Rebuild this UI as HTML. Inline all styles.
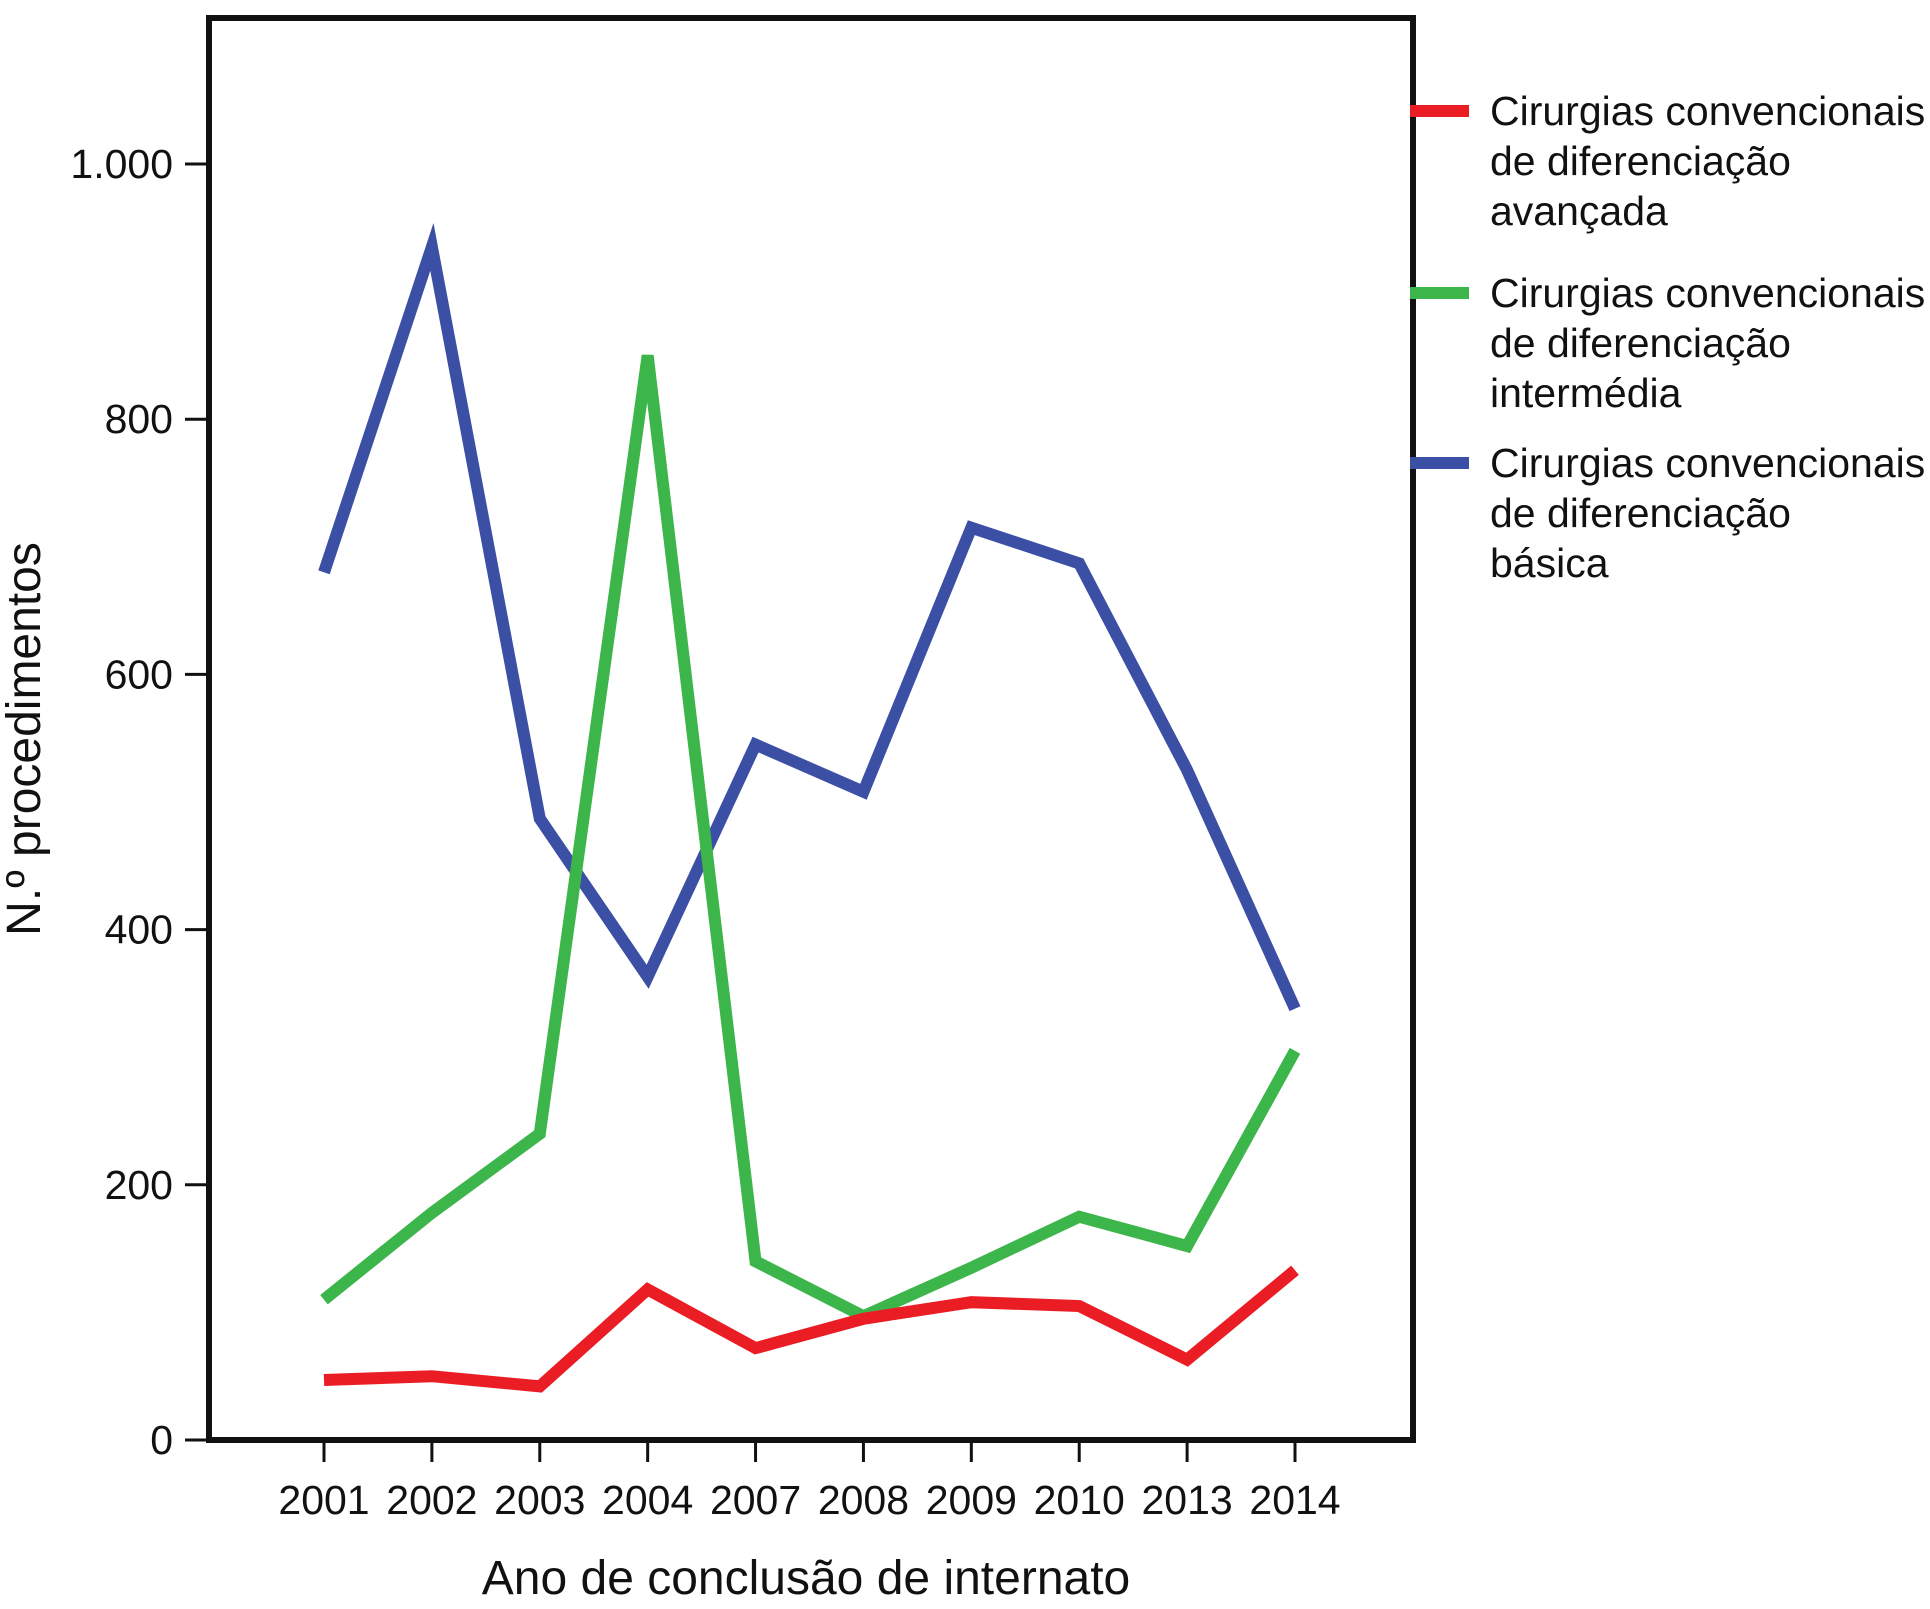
<!DOCTYPE html>
<html><head><meta charset="utf-8"><style>
body{margin:0;background:#fff;}
svg text{font-family:"Liberation Sans",sans-serif;fill:#111;}
</style></head><body>
<svg id="chart" width="1930" height="1604">
<rect x="209" y="18" width="1204" height="1422" fill="none" stroke="#111" stroke-width="6"/>
<g id="yticks"></g>
<g id="xticks"></g>
<g id="series"></g>
<text x="40" y="739" font-size="48" text-anchor="middle" transform="rotate(-90 40 739)">N.º procedimentos</text>
<text x="806" y="1594" font-size="48" text-anchor="middle">Ano de conclusão de internato</text>
<g id="legend"></g>
</svg>
<script>
const categories=["2001","2002","2003","2004","2007","2008","2009","2010","2013","2014"];
const basica=[680,935,487,363,545,508,715,687,525,338];
const intermedia=[110,178,240,850,140,97,135,175,152,305];
const avancada=[47,50,42,118,72,95,108,105,63,133];
const yTicks=[0,200,400,600,800,1000];
const yTickLabels=["0","200","400","600","800","1.000"];
const legendLabels=[["Cirurgias convencionais","de diferenciação","avançada"],["Cirurgias convencionais","de diferenciação","intermédia"],["Cirurgias convencionais","de diferenciação","básica"]];
const NS="http://www.w3.org/2000/svg";
function y(v){return 1440-v*(1440-164)/1000;}
function x(i){return 324+i*(1295-324)/9;}
const yg=document.getElementById('yticks');
yTicks.forEach((t,i)=>{
 const l=document.createElementNS(NS,'line');
 l.setAttribute('x1',185);l.setAttribute('x2',209);l.setAttribute('y1',y(t));l.setAttribute('y2',y(t));l.setAttribute('stroke','#111');l.setAttribute('stroke-width',3);
 
 
 yg.appendChild(l);
 const tx=document.createElementNS(NS,'text');
 tx.setAttribute('x',173);tx.setAttribute('y',y(t)+14);tx.setAttribute('font-size',41);tx.setAttribute('text-anchor','end');tx.textContent=yTickLabels[i];
 
 
 yg.appendChild(tx);
});
const xg=document.getElementById('xticks');
categories.forEach((c,i)=>{
 const l=document.createElementNS(NS,'line');
 l.setAttribute('x1',x(i));l.setAttribute('x2',x(i));l.setAttribute('y1',1440);l.setAttribute('y2',1462);l.setAttribute('stroke','#111');l.setAttribute('stroke-width',3);
 
 
 xg.appendChild(l);
 const tx=document.createElementNS(NS,'text');
 tx.setAttribute('x',x(i));tx.setAttribute('y',1514);tx.setAttribute('font-size',41);tx.setAttribute('text-anchor','middle');tx.textContent=c;
 
 
 xg.appendChild(tx);
});
const sg=document.getElementById('series');
[[basica,'#3b4fa4','line-basica'],[intermedia,'#3cb54a','line-intermedia'],[avancada,'#ea1c24','line-avancada']].forEach(s=>{
 const p=document.createElementNS(NS,'polyline');
 p.setAttribute('points',s[0].map((v,i)=>x(i)+','+y(v)).join(' '));
 p.setAttribute('fill','none');p.setAttribute('stroke',s[1]);p.setAttribute('stroke-width',12);p.setAttribute('stroke-linejoin','miter');
 
 
 sg.appendChild(p);
});
const lg=document.getElementById('legend');
const lcol=['#ea1c24','#3cb54a','#3b4fa4'];const ly=[111,293,463];
legendLabels.forEach((lines,k)=>{
 const l=document.createElementNS(NS,'line');
 l.setAttribute('x1',1410);l.setAttribute('x2',1469);l.setAttribute('y1',ly[k]);l.setAttribute('y2',ly[k]);l.setAttribute('stroke',lcol[k]);l.setAttribute('stroke-width',12);
 
 
 lg.appendChild(l);
 lines.forEach((t,j)=>{
  const tx=document.createElementNS(NS,'text');
  tx.setAttribute('x',1490);tx.setAttribute('y',ly[k]+14+j*50);tx.setAttribute('font-size',41);tx.textContent=t;
  
  
  lg.appendChild(tx);
 });
});
</script>
</body></html>
